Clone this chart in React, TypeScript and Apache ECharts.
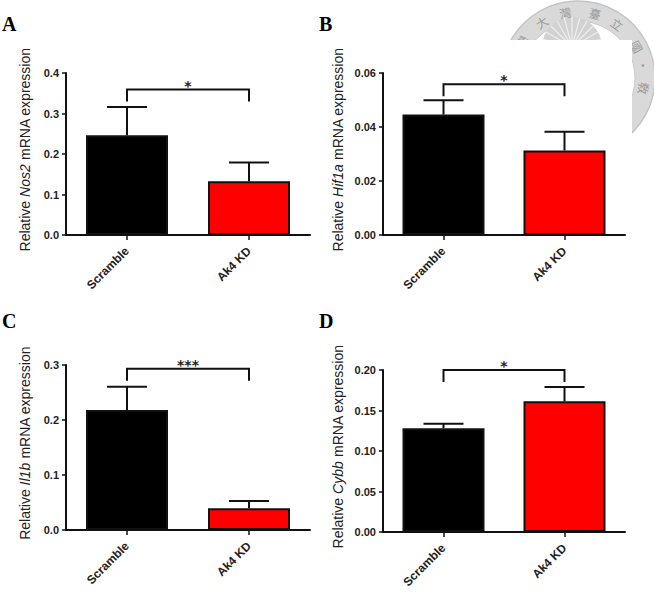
import React, { useEffect, useRef } from "react";
import * as echarts from "echarts";

// Groups compared in every panel
const groups = ["Scramble", "Ak4 KD"];

// Relative mRNA expression (mean, SEM) per gene
const nos2Mean = [0.246, 0.133];
const nos2Sem = [0.07, 0.046];
const hif1aMean = [0.0446, 0.0313];
const hif1aSem = [0.0053, 0.0069];
const il1bMean = [0.218, 0.0394];
const il1bSem = [0.0426, 0.0133];
const cybbMean = [0.128, 0.1613];
const cybbSem = [0.0057, 0.0177];

// Gene names, panel letters and axis ranges
const genes = ["Nos2", "Hif1a", "Il1b", "Cybb"];
const letters = ["A", "B", "C", "D"];
const yMax = [0.4, 0.06, 0.3, 0.2];
const yStep = [0.1, 0.02, 0.1, 0.05];
const yDecimals = [1, 2, 1, 2];

// Significance brackets: height (in axis units) and stars
const bracketLevel = [0.359, 0.0558, 0.293, 0.2];
const bracketStars = ["*", "*", "***", "*"];

const means = [nos2Mean, hif1aMean, il1bMean, cybbMean];
const sems = [nos2Sem, hif1aSem, il1bSem, cybbSem];
const barColors = ["#000000", "#ff0000"];

const FONT = "'Liberation Sans', Arial, Helvetica, sans-serif";
const INK = "#111111";

const grids = [
  { left: 66, top: 73, width: 244, height: 162 },
  { left: 383, top: 73, width: 242, height: 162 },
  { left: 66, top: 365, width: 244, height: 165 },
  { left: 383, top: 370, width: 242, height: 162 },
];
const nameGaps = [34, 38, 34, 38];
const letterPos = [
  [2, 14],
  [319, 14],
  [2, 311],
  [319, 311],
];

function sealGraphic() {
  const cx = 578;
  const cy = 78;
  const children: any[] = [];
  children.push({
    type: "ring",
    shape: { cx, cy, r: 77, r0: 57 },
    style: { fill: "#d9d9d9" },
    z: -30,
  });
  children.push({
    type: "circle",
    shape: { cx, cy, r: 77 },
    style: { fill: "none", stroke: "#c4c4c4", lineWidth: 1.5 },
    z: -29,
  });
  children.push({
    type: "circle",
    shape: { cx, cy, r: 57 },
    style: { fill: "none", stroke: "#c8c8c8", lineWidth: 1 },
    z: -29,
  });
  // rising sun
  children.push({
    type: "sector",
    shape: { cx: 572, cy: 47, r: 30, r0: 0, startAngle: Math.PI, endAngle: Math.PI * 2 },
    style: { fill: "#d2d2d2" },
    z: -29,
  });
  for (let k = 1; k < 12; k++) {
    const a = Math.PI + (k * Math.PI) / 12;
    children.push({
      type: "line",
      shape: { x1: 572, y1: 47, x2: 572 + Math.cos(a) * 30, y2: 47 + Math.sin(a) * 30 },
      style: { stroke: "#eeeeee", lineWidth: 1.2 },
      z: -28,
    });
  }
  const chars = [
    ["學", -147],
    ["大", -123],
    ["灣", -101],
    ["臺", -75],
    ["立", -54],
    ["國", -28],
    ["·", -11],
    ["敎", 9],
  ];
  chars.forEach(([ch, deg]) => {
    const t = ((deg as number) * Math.PI) / 180;
    children.push({
      type: "text",
      x: cx + Math.cos(t) * 67,
      y: cy + Math.sin(t) * 67,
      rotation: -(t + Math.PI / 2),
      style: {
        text: ch as string,
        fill: "#9a9a9a",
        fontSize: 12,
        fontFamily: "'Noto Sans CJK TC', 'Noto Sans CJK SC', sans-serif",
        align: "center",
        verticalAlign: "middle",
      },
      z: -27,
    });
  });
  // panel B area sits in front of the seal
  children.push({
    type: "rect",
    shape: { x: 330, y: 40, width: 302, height: 260 },
    style: { fill: "#ffffff" },
    z: -20,
  });
  return children;
}

export default function App() {
  const ref = useRef<HTMLDivElement>(null);

  useEffect(() => {
    if (!ref.current) return;
    const chart = echarts.init(ref.current, undefined, { renderer: "svg" });

    const xAxis = grids.map((_, i) => ({
      type: "category",
      gridIndex: i,
      data: groups,
      axisLine: { show: true, lineStyle: { color: INK, width: 2 } },
      axisTick: { show: true, alignWithLabel: true, length: 5, lineStyle: { color: INK, width: 1.5 } },
      axisLabel: {
        rotate: 45,
        interval: 0,
        margin: 14,
        fontSize: 12,
        fontWeight: "bold",
        color: "#222",
        fontFamily: FONT,
      },
      splitLine: { show: false },
    }));

    const yAxis = grids.map((_, i) => ({
      type: "value",
      gridIndex: i,
      min: 0,
      max: yMax[i],
      interval: yStep[i],
      axisLine: { show: true, lineStyle: { color: INK, width: 2 } },
      axisTick: { show: true, length: 4, lineStyle: { color: INK, width: 1.5 } },
      axisLabel: {
        formatter: (v: number) => v.toFixed(yDecimals[i]),
        margin: 7,
        fontSize: 11,
        fontWeight: "bold",
        color: "#222",
        fontFamily: FONT,
      },
      splitLine: { show: false },
      name: `Relative {i|${genes[i]}} mRNA expression`,
      nameLocation: "middle",
      nameRotate: 90,
      nameGap: nameGaps[i],
      nameTextStyle: {
        fontSize: 14,
        color: "#222",
        fontFamily: FONT,
        padding: [0, 0, 0, 9],
        rich: {
          i: { fontSize: 14, fontStyle: "italic", color: "#222", fontFamily: FONT },
        },
      },
    }));

    const series: any[] = [];
    grids.forEach((_, i) => {
      series.push({
        type: "bar",
        xAxisIndex: i,
        yAxisIndex: i,
        barWidth: 82,
        z: 2,
        data: means[i].map((v, j) => ({
          value: v,
          itemStyle: { color: barColors[j], borderColor: INK, borderWidth: 2 },
        })),
      });
      series.push({
        type: "custom",
        xAxisIndex: i,
        yAxisIndex: i,
        z: 3,
        encode: { x: 0, y: [1, 2] },
        data: means[i].map((v, j) => [j, v, sems[i][j]]),
        renderItem: (_p: any, api: any) => {
          const x = api.value(0);
          const m = api.value(1);
          const e = api.value(2);
          const base = api.coord([x, m]);
          const top = api.coord([x, m + e]);
          const st = { stroke: INK, lineWidth: 2 };
          return {
            type: "group",
            children: [
              { type: "line", shape: { x1: base[0], y1: base[1], x2: top[0], y2: top[1] }, style: st },
              { type: "line", shape: { x1: top[0] - 20, y1: top[1], x2: top[0] + 20, y2: top[1] }, style: st },
            ],
          };
        },
      });
      series.push({
        type: "custom",
        xAxisIndex: i,
        yAxisIndex: i,
        z: 3,
        clip: false,
        encode: { x: [0, 1], y: 2 },
        data: [[0, 1, bracketLevel[i]]],
        renderItem: (_p: any, api: any) => {
          const lv = api.value(2);
          const a = api.coord([api.value(0), lv]);
          const b = api.coord([api.value(1), lv]);
          const drop = 12;
          return {
            type: "group",
            children: [
              {
                type: "polyline",
                shape: {
                  points: [
                    [a[0], a[1] + drop],
                    [a[0], a[1]],
                    [b[0], b[1]],
                    [b[0], b[1] + drop],
                  ],
                },
                style: { stroke: INK, lineWidth: 2, fill: "none" },
              },
              {
                type: "text",
                x: (a[0] + b[0]) / 2,
                y: a[1] - 4,
                style: {
                  text: bracketStars[i],
                  fontSize: 14,
                  fontWeight: "bold",
                  fontFamily: "'DejaVu Sans', sans-serif",
                  fill: "#222",
                  align: "center",
                  verticalAlign: "middle",
                },
              },
            ],
          };
        },
      });
    });

    const graphic: any[] = [...sealGraphic()];
    letters.forEach((l, i) => {
      graphic.push({
        type: "text",
        x: letterPos[i][0],
        y: letterPos[i][1],
        style: {
          text: l,
          fontSize: 20,
          fontWeight: "bold",
          fontFamily: "'Liberation Serif', 'Times New Roman', serif",
          fill: "#000",
          align: "left",
          verticalAlign: "top",
        },
      });
    });

    chart.setOption({
      animation: false,
      backgroundColor: "#ffffff",
      grid: grids,
      xAxis,
      yAxis,
      series,
      graphic,
    });

    return () => chart.dispose();
  }, []);

  return (
    <div
      ref={ref}
      style={{ position: "fixed", left: 0, top: 0, width: 654, height: 601 }}
    />
  );
}
